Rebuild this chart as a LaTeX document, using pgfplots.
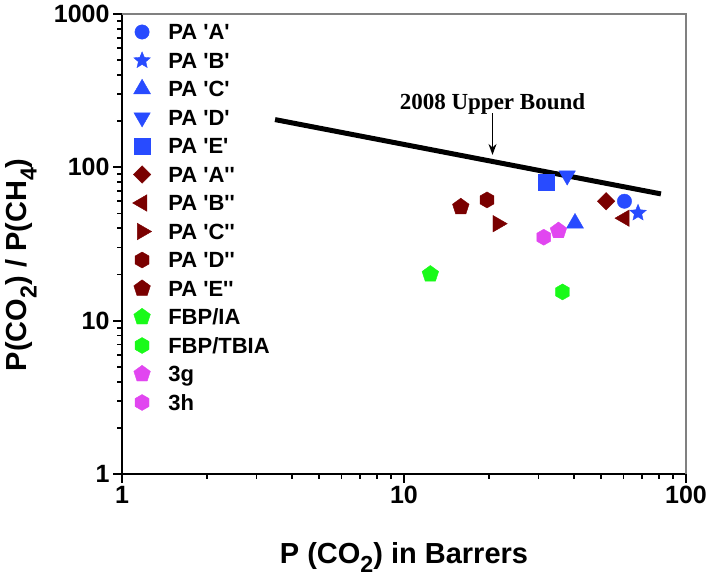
\documentclass[border=0pt]{standalone}
\usepackage{pgfplots}
\pgfplotsset{compat=1.18}
\usepackage{graphicx}
\usepackage{fontspec}
\setmainfont{Liberation Sans}
\newfontfamily\timesfont{Liberation Serif}
\usetikzlibrary{arrows.meta}
\definecolor{pblue}{RGB}{40,75,255}
\definecolor{pred}{RGB}{122,0,0}
\definecolor{pgreen}{RGB}{25,250,25}
\definecolor{pmag}{RGB}{225,70,240}
\newcommand\sub[1]{\raisebox{-0.33em}{\scalebox{0.8}{#1}}}
\newcommand\q{\textquotesingle}
\pgfdeclareplotmark{fstar}{%
  \pgfpathmoveto{\pgfpointpolar{90}{\pgfplotmarksize}}%
  \pgfpathlineto{\pgfpointpolar{126}{0.45\pgfplotmarksize}}%
  \pgfpathlineto{\pgfpointpolar{162}{\pgfplotmarksize}}%
  \pgfpathlineto{\pgfpointpolar{198}{0.45\pgfplotmarksize}}%
  \pgfpathlineto{\pgfpointpolar{234}{\pgfplotmarksize}}%
  \pgfpathlineto{\pgfpointpolar{270}{0.45\pgfplotmarksize}}%
  \pgfpathlineto{\pgfpointpolar{306}{\pgfplotmarksize}}%
  \pgfpathlineto{\pgfpointpolar{342}{0.45\pgfplotmarksize}}%
  \pgfpathlineto{\pgfpointpolar{18}{\pgfplotmarksize}}%
  \pgfpathlineto{\pgfpointpolar{54}{0.45\pgfplotmarksize}}%
  \pgfpathclose\pgfusepathqfillstroke}
\pgfdeclareplotmark{hexa}{%
  \pgfpathmoveto{\pgfpointpolar{90}{\pgfplotmarksize}}%
  \pgfpathlineto{\pgfpointpolar{150}{\pgfplotmarksize}}%
  \pgfpathlineto{\pgfpointpolar{210}{\pgfplotmarksize}}%
  \pgfpathlineto{\pgfpointpolar{270}{\pgfplotmarksize}}%
  \pgfpathlineto{\pgfpointpolar{330}{\pgfplotmarksize}}%
  \pgfpathlineto{\pgfpointpolar{30}{\pgfplotmarksize}}%
  \pgfpathclose\pgfusepathqfillstroke}
\begin{document}
\begin{tikzpicture}
\begin{axis}[
  xmode=log, ymode=log,
  scale only axis, width=564bp, height=460bp,
  xmin=1, xmax=100, ymin=1, ymax=1000,
  axis x line*=bottom, axis y line*=left,
  axis line style={line width=2bp, black},
  tick align=outside,
  major tick length=9bp, minor tick length=5bp,
  tick style={line width=1.8bp, black},
  xtick={1,10,100}, xticklabels={1,10,100},
  ytick={1,10,100,1000}, yticklabels={1,10,100,1000},
  ticklabel style={font=\fontsize{25bp}{30bp}\selectfont\bfseries},
  xlabel={P (CO\sub{2}) in Barrers},
  ylabel={P(CO\sub{2}) / P(CH\sub{4})},
  xlabel style={at={([yshift=-89bp]rel axis cs:0.5,0)}, anchor=base, font=\fontsize{29bp}{34bp}\selectfont\bfseries},
  ylabel style={at={([xshift=-95bp]rel axis cs:0,0.455)}, anchor=base, font=\fontsize{29bp}{34bp}\selectfont\bfseries},
  clip=false,
  legend cell align=left,
  legend image code/.code={\path (0bp,0bp) (34bp,0bp); \draw[#1] plot coordinates {(10bp,0bp)};},
  legend style={draw=none, fill=none, at={(rel axis cs:0,1)}, anchor=north west,
     xshift=9.7bp, yshift=-5.7bp, inner sep=0pt, row sep=4.3bp, column sep=0pt,
     font=\fontsize{22bp}{26bp}\selectfont\bfseries,
     nodes={inner sep=2bp, text height=18bp, text depth=2.2bp}},
]
\addplot[only marks, color=pblue, mark=*, mark size=7.2bp] coordinates {(60.5,60.1)};
\addlegendentry{PA \q A\q}
\addplot[only marks, color=pblue, mark=fstar, mark size=8.7bp] coordinates {(67.6,50.4)};
\addlegendentry{PA \q B\q}
\addplot[only marks, color=pblue, mark=triangle*, mark size=9.8bp] coordinates {(40.4,43.2)};
\addlegendentry{PA \q C\q}
\addplot[only marks, color=pblue, mark=triangle*, mark size=9.5bp, mark options={rotate=180}] coordinates {(37.9,88.3)};
\addlegendentry{PA \q D\q}
\addplot[only marks, color=pblue, mark=square*, mark size=7.8bp] coordinates {(31.9,79.7)};
\addlegendentry{PA \q E\q}
\addplot[only marks, color=pred, mark=square*, mark size=6.2bp, mark options={rotate=45}] coordinates {(52.1,60.1)};
\addlegendentry{PA \q A\q\q}
\addplot[only marks, color=pred, mark=triangle*, mark size=9.5bp, mark options={rotate=90}] coordinates {(60.5,46.6)};
\addlegendentry{PA \q B\q\q}
\addplot[only marks, color=pred, mark=triangle*, mark size=9.5bp, mark options={rotate=-90}] coordinates {(21.5,42.9)};
\addlegendentry{PA \q C\q\q}
\addplot[only marks, color=pred, mark=hexa, mark size=8bp] coordinates {(19.7,61.3)};
\addlegendentry{PA \q D\q\q}
\addplot[only marks, color=pred, mark=pentagon*, mark size=8.7bp] coordinates {(15.9,55.2)};
\addlegendentry{PA \q E\q\q}
\addplot[only marks, color=pgreen, mark=pentagon*, mark size=8.7bp] coordinates {(12.4,20.1)};
\addlegendentry{FBP/IA}
\addplot[only marks, color=pgreen, mark=hexa, mark size=8bp] coordinates {(36.5,15.4)};
\addlegendentry{FBP/TBIA}
\addplot[only marks, color=pmag, mark=pentagon*, mark size=8.7bp] coordinates {(35.3,38.6)};
\addlegendentry{3g}
\addplot[only marks, color=pmag, mark=hexa, mark size=8bp] coordinates {(31.3,35.0)};
\addlegendentry{3h}
\addplot[black, line width=5bp, no marks, forget plot] coordinates {(3.49,204.8) (81.5,67.1)};
\draw[gray, line width=1.5bp] (rel axis cs:0,1) -- (rel axis cs:1,1) -- (rel axis cs:1,0);
\node[anchor=base, font=\timesfont\bfseries\fontsize{23bp}{27bp}\selectfont] at (axis cs:20.6,236.8) {2008 Upper Bound};
\draw[line width=1.5bp, -{Stealth[length=11bp,width=8bp]}] (axis cs:20.6,226) -- (axis cs:20.6,120.5);
\end{axis}
\pgfresetboundingbox
\path[use as bounding box] ([shift={(-122bp,-103bp)}]current axis.south west) rectangle ([shift={(23bp,14bp)}]current axis.north east);
\end{tikzpicture}
\end{document}
